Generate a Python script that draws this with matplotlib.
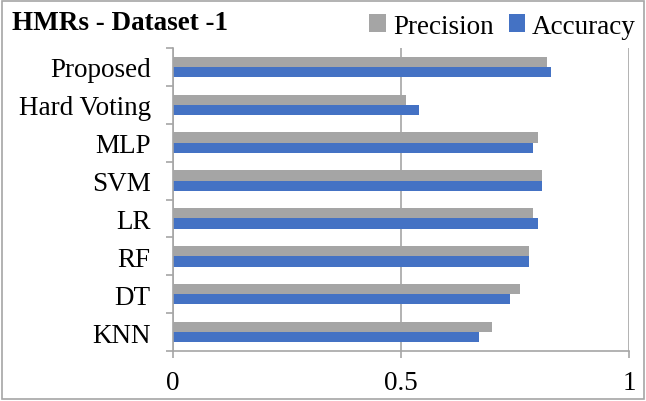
import numpy as np
import matplotlib.pyplot as plt
from matplotlib.patches import Rectangle

# data (bottom to top)
models = ["KNN", "DT", "RF", "LR", "SVM", "MLP", "Hard Voting", "Proposed"]
precision = [0.70, 0.76, 0.78, 0.79, 0.81, 0.80, 0.51, 0.82]
accuracy = [0.67, 0.74, 0.78, 0.80, 0.81, 0.79, 0.54, 0.83]

plt.rcParams["font.family"] = ["Liberation Serif", "DejaVu Serif"]

fig = plt.figure(figsize=(6.46, 4.02), dpi=100)
ax = fig.add_axes([173 / 646, 50 / 402, 456 / 646, 303 / 402])

y = np.arange(len(models))
h = 0.27
ax.barh(y + h / 2, precision, height=h, color="#A5A5A5", label="Precision")
ax.barh(y - h / 2, accuracy, height=h, color="#4472C4", label="Accuracy")

ax.set_xlim(0, 1)
ax.set_ylim(-0.5, len(models) - 0.5)
ax.set_xticks([0, 0.5, 1])
ax.set_xticklabels(["0", "0.5", "1"], fontsize=19.5)
ax.set_yticks(y)
ax.set_yticklabels(models, fontsize=19.5)
ax.tick_params(axis="y", length=0, pad=16)
ax.tick_params(axis="x", length=5, color="#A6A6A6", width=1.2, pad=9, direction="out")

# category separator ticks on y axis
ax.set_yticks(np.arange(-0.5, len(models)), minor=True)
ax.tick_params(axis="y", which="minor", length=5, width=1.2, color="#A6A6A6")

ax.grid(axis="x", color="#A6A6A6", linewidth=1.2)
ax.set_axisbelow(True)
for s in ["top", "right"]:
    ax.spines[s].set_visible(False)
ax.spines["left"].set_color("#A6A6A6")
ax.spines["bottom"].set_color("#A6A6A6")
ax.spines["left"].set_linewidth(1.2)
ax.spines["bottom"].set_linewidth(1.2)

fig.text(12 / 646, 1 - 24 / 402, "HMRs - Dataset -1", fontsize=19.5, fontweight="bold",
         va="center", ha="left")

fig.legend(loc="center right", bbox_to_anchor=(636 / 646, 1 - 27 / 402), ncol=2,
           frameon=False, fontsize=19.5, handlelength=0.62, handleheight=0.62,
           handletextpad=0.25, columnspacing=0.55, borderaxespad=0, borderpad=0)

# outer border
fig.patches.append(Rectangle((0.003, 0.004), 0.994, 0.992, transform=fig.transFigure,
                             fill=False, edgecolor="#A6A6A6", linewidth=1.2))

fig.savefig("out.png", dpi=100)
